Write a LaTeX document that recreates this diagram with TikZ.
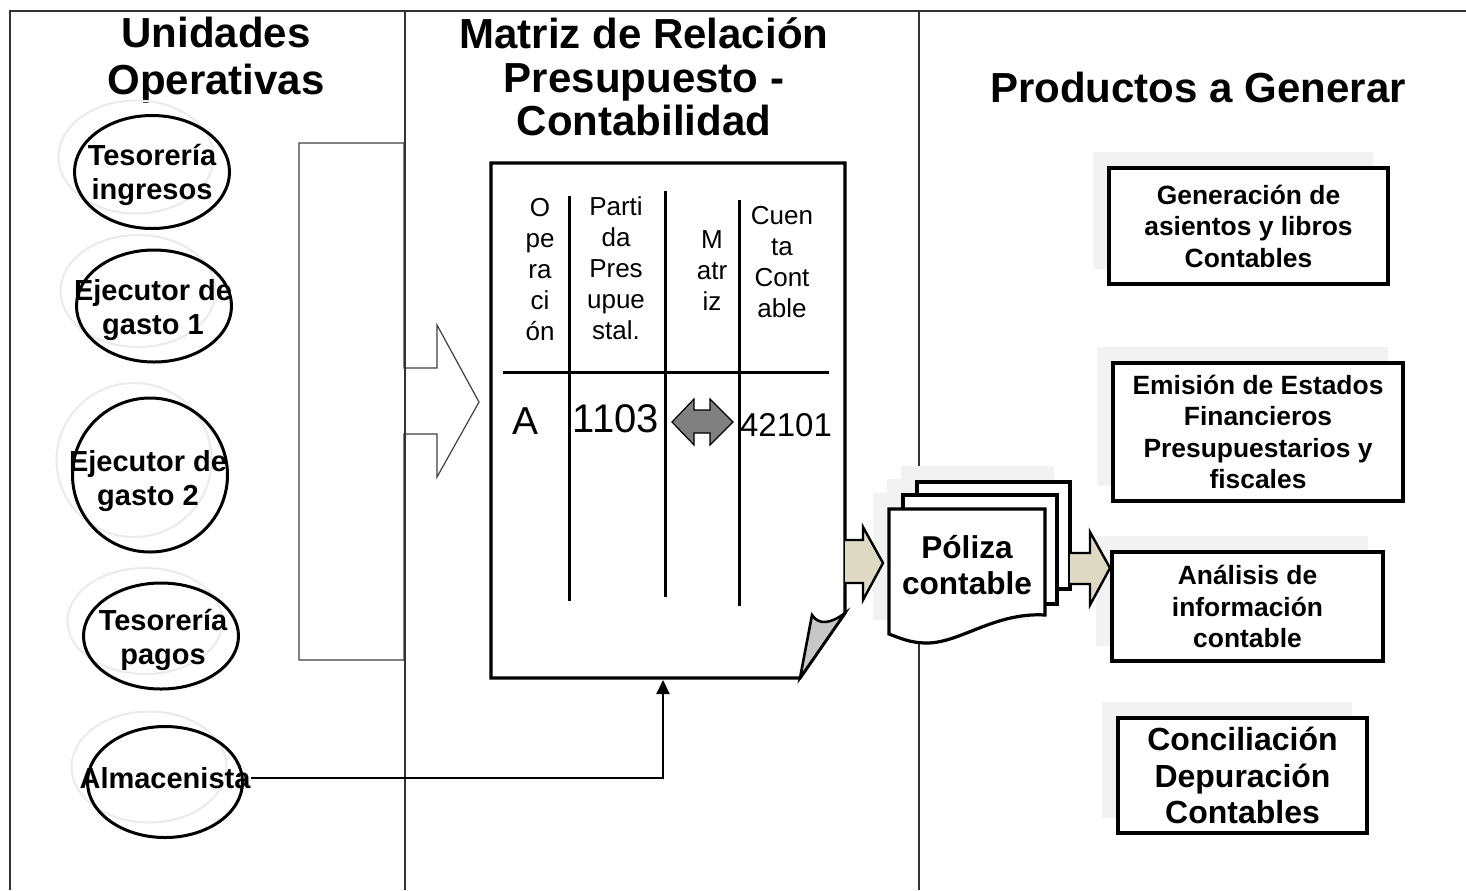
\documentclass[tikz,border=0pt]{standalone}
\usepackage{fontspec}
\setmainfont{Liberation Sans}
\usepackage{xcolor}
\usepackage{tikz}
\usetikzlibrary{shapes, arrows.meta, positioning}
\definecolor{arrowtan}{HTML}{DDD9C3}
\definecolor{shadowgray}{HTML}{F2F2F2}
\newcommand{\fsize}[2]{\fontsize{#1}{#2}\selectfont}

\begin{document}
\begin{tikzpicture}[x=0.5pt, y=-0.5pt,
            title/.style={font=\bfseries\fsize{21}{23.5}, align=center, inner sep=0pt},
            oval/.style={draw, ellipse, line width=1.5pt, minimum width=77.5pt, minimum height=#1, inner sep=0pt, outer sep=0pt},
            ovalshadow/.style={draw=black!8, ellipse, line width=1pt, minimum width=77.5pt, minimum height=#1, inner sep=0pt},
            ovaltext/.style={font=\bfseries\fsize{14.5}{17}, align=center, inner sep=0pt},
            hdr/.style={font=\fsize{13}{15.5}, align=center, inner sep=0pt},
            prod/.style={draw, line width=1.6pt, fill=white, align=center, font=\bfseries\fsize{13.2}{15.75}, inner sep=0pt},
            prodshadow/.style={fill=shadowgray, draw=black!5, line width=0.5pt, inner sep=0pt},
            blockarrow/.style={draw, line width=1.2pt, fill=arrowtan, line join=miter},
            doc/.style={draw, line width=1.6pt, fill=white, line join=miter},
            tbl/.style={line width=1.5pt},
            frame/.style={black!80, line width=0.9pt}
        ]
    \fill[white] (0,0) rectangle (1466,890);
    \useasboundingbox (0,0) rectangle (1466,890);

    \draw[black!75, line width=0.6pt, fill=white] (299,143) -- (404,143) -- (404,368) -- (437,368) -- (437,325) -- (479,402)
        -- (437,477) -- (437,434) -- (404,434) -- (404,660) -- (299,660) -- cycle;

    \draw[frame] (10,890) -- (10,11) -- (1466,11);
    \draw[frame] (405,11) -- (405,890);
    \draw[frame] (919,11) -- (919,890);

    \node[title] (unid) at (216,60) {Unidades\\Operativas};
    \node[title, font=\bfseries\fsize{21}{21.8}] (matriz) at (644,77) {Matriz de Relación\\Presupuesto -\\Contabilidad};
    \node[title] (prods) at (1198,87) {Productos a Generar};

    \node[ovalshadow=56.5pt] (s1) at (136,157) {};
    \node[ovalshadow=56pt] (s2) at (138,291) {};
    \node[ovalshadow=77pt] (s3) at (134,460) {};
    \node[ovalshadow=53pt] (s4) at (145,621) {};
    \node[ovalshadow=55.5pt] (s5) at (149,767) {};
    \node[oval=56.5pt] (o1) at (152,172) {};
    \node[oval=56pt] (o2) at (154,306) {};
    \node[oval=77pt] (o3) at (150,475) {};
    \node[oval=53pt] (o4) at (161,636) {};
    \node[oval=55.5pt] (o5) at (165,782) {};
    \node[ovaltext] (tin) at (152,175) {Tesorería\\ingresos};
    \node[ovaltext] (ej1) at (153,310) {Ejecutor de\\gasto 1};
    \node[ovaltext] (ej2) at (148,481) {Ejecutor de\\gasto 2};
    \node[ovaltext] (tpa) at (163,640) {Tesorería\\pagos};
    \node[ovaltext] (alm) at (165,778) {Almacenista};

    \draw[doc] (491,163) -- (845,163) -- (845,613) -- (800,678) -- (491,678) -- cycle;
    \draw[line width=1.3pt, fill=black!22, line join=miter] (800,678) -- (812,615) .. controls (819,626) and (832,623) .. (845,613) -- cycle;
    \coordinate (matin) at (663,680);

    \draw[tbl] (503,372) -- (829,372);
    \draw[tbl] (569,196) -- (569,601);
    \draw[tbl] (665,191) -- (665,597);
    \draw[tbl] (739,200) -- (739,606);
    \node[hdr] (h1) at (540,270) {O\\pe\\ra\\ci\\ón};
    \node[hdr] (h2) at (616,268) {Parti\\da\\Pres\\upue\\stal.};
    \node[hdr] (h3) at (712,271) {M\\atr\\iz};
    \node[hdr] (h4) at (782,262) {Cuen\\ta\\Cont\\able};
    \node[font=\fsize{19.5}{22}, inner sep=0pt] (va) at (525,421) {A};
    \node[font=\fsize{20}{22}, inner sep=0pt] (vp) at (616,419) {1103};
    \node[font=\fsize{16.5}{19}, inner sep=0pt] (vc) at (786,425) {42101};
    \draw[fill=black!50, line width=0.6pt, line join=miter] (672,422) -- (694,399) -- (694,410) -- (710,410) -- (710,399) -- (733,422)
        -- (710,445) -- (710,433) -- (694,433) -- (694,445) -- cycle;

    \draw[line width=1pt, -{Triangle[length=7pt, width=6.5pt]}] (alm.east) -| (matin);

    \fill[shadowgray] (901,466) rectangle (1054,573);
    \fill[shadowgray] (887,479) rectangle (1041,588);
    \fill[shadowgray] (873,493) rectangle (1029,620);
    \draw[doc] (917,482) rectangle (1070,589);
    \draw[doc] (903,495) rectangle (1057,604);
    \draw[doc] (889,509) -- (1045,509) -- (1045,615) .. controls (995,612) and (960,643) .. (927,643)
        .. controls (910,643) and (900,638) .. (889,634) -- cycle;
    \node[font=\bfseries\fsize{15.8}{18}, align=center, inner sep=0pt] (pol) at (967,565) {Póliza\\contable};

    \draw[blockarrow] (845,540) -- (863,540) -- (863,527) -- (883,563) -- (863,600) -- (863,583) -- (845,583);

    \node[prodshadow, minimum width=139.5pt, minimum height=58pt] (gens) at (1232.5,210) {};
    \node[prodshadow, minimum width=145pt, minimum height=69pt] (emis) at (1242,416) {};
    \node[prodshadow, minimum width=135.5pt, minimum height=54.5pt] (anas) at (1231.5,590.5) {};
    \node[prodshadow, minimum width=124.5pt, minimum height=57.5pt] (cons) at (1226.5,759.5) {};
    \node[prod, minimum width=139.5pt, minimum height=58pt] (gen) at (1248.5,226) {Generación de\\asientos y libros\\Contables};
    \node[prod, minimum width=145pt, minimum height=69pt] (emi) at (1258,432) {Emisión de Estados\\Financieros\\Presupuestarios y\\fiscales};
    \node[prod, minimum width=135.5pt, minimum height=54.5pt] (ana) at (1247.5,606.5) {Análisis de\\información\\contable};
    \node[prod, minimum width=124.5pt, minimum height=57.5pt, font=\bfseries\fsize{16}{18.25}] (con) at (1242.5,775.5) {Conciliación\\Depuración\\Contables};

    \draw[blockarrow] (1070,553) -- (1090,553) -- (1090,532) -- (1110,568) -- (1090,605) -- (1090,584) -- (1070,584);
\end{tikzpicture}
\end{document}
